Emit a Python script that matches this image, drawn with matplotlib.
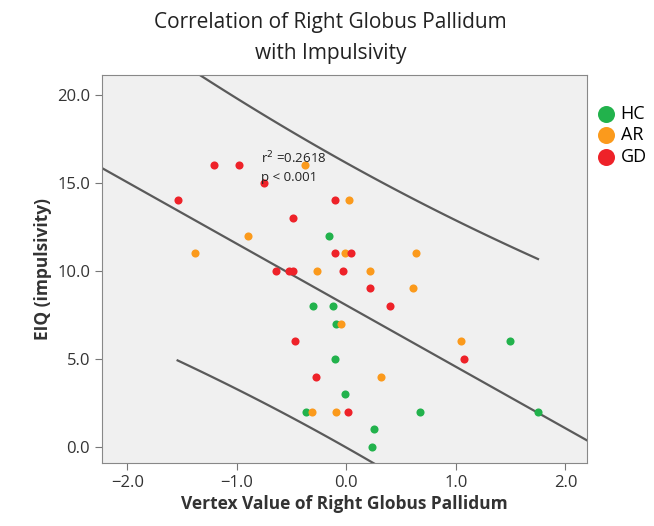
import numpy as np
import matplotlib
matplotlib.use("Agg")
import matplotlib.pyplot as plt

# values (vertex value, EIQ score)
hc_x = [-0.16, -0.30, -0.125, -0.09, 1.49, -0.10, -0.015, -0.37, 0.67, 1.75, 0.256, 0.235]
hc_y = [12, 8, 8, 7, 6, 5, 3, 2, 2, 2, 1, 0]

ar_x = [-0.38, 0.025, -0.90, -1.38, -0.01, 0.64, -0.27, 0.22, 0.61, -0.05, 1.05, 0.32, -0.31, -0.094]
ar_y = [16, 14, 12, 11, 11, 11, 10, 10, 9, 7, 6, 4, 2, 2]

gd_x = [-1.21, -0.98, -0.75, -1.54, -0.49, -0.64, -0.52, -0.49, -0.107, -0.10, 0.046,
        -0.03, 0.22, 0.40, -0.47, 1.07, -0.28, 0.012]
gd_y = [16, 16, 15, 14, 13, 10, 10, 10, 14, 11, 11, 10, 9, 8, 6, 5, 4, 2]

groups = ["HC", "AR", "GD"]
colors = ["#22b24c", "#fb9a1c", "#ee2229"]

plt.rcParams['font.family'] = ['Open Sans', 'DejaVu Sans']

fig = plt.figure(figsize=(6.54, 5.26), dpi=100)
ax = fig.add_axes([0.156, 0.120, 0.742, 0.737])
ax.set_facecolor("#f0f0f0")

for xs, ys, c, g in zip([hc_x, ar_x, gd_x], [hc_y, ar_y, gd_y], colors, groups):
    ax.scatter(xs, ys, s=34, color=c, label=g, zorder=3, linewidths=0)

# linear fit with 95% prediction interval
x_all = np.array(hc_x + ar_x + gd_x)
y_all = np.array(hc_y + ar_y + gd_y)
n = len(x_all)
b, a = np.polyfit(x_all, y_all, 1)
resid = y_all - (a + b * x_all)
s = np.sqrt(np.sum(resid ** 2) / (n - 2))
t = 2.018
xm = x_all.mean()
sxx = np.sum((x_all - xm) ** 2)

xl = np.linspace(-2.3, 2.3, 100)
ax.plot(xl, a + b * xl, color="#5a5a5a", lw=1.6, zorder=2)
xp = np.linspace(x_all.min(), x_all.max(), 100)
half = t * s * np.sqrt(1 + 1 / n + (xp - xm) ** 2 / sxx)
ax.plot(xp, a + b * xp + half, color="#5a5a5a", lw=1.6, zorder=2)
ax.plot(xp, a + b * xp - half, color="#5a5a5a", lw=1.6, zorder=2)

ax.text(-0.78, 16.4, "r$^2$ =0.2618", fontsize=9.5, color="#222222", va="center", zorder=4)
ax.text(-0.78, 15.3, "p < 0.001", fontsize=9.5, color="#222222", va="center", zorder=4)

ax.set_xlim(-2.23, 2.2)
ax.set_ylim(-0.9, 21.1)
ax.set_xticks([-2, -1, 0, 1, 2])
ax.set_xticklabels(["−2.0", "−1.0", "0.0", "1.0", "2.0"])
ax.set_yticks([0, 5, 10, 15, 20])
ax.set_yticklabels(["0.0", "5.0", "10.0", "15.0", "20.0"])
ax.tick_params(labelsize=12, colors="#333333", length=5, color="#777777")
for sp in ax.spines.values():
    sp.set_color("#888888")

ax.set_xlabel("Vertex Value of Right Globus Pallidum", fontsize=12.5, fontweight="bold",
              color="#333333", labelpad=3)
ax.set_ylabel("EIQ (impulsivity)", fontsize=12.5, fontweight="bold", color="#333333")
fig.text(0.505, 0.928, "Correlation of Right Globus Pallidum\nwith Impulsivity",
         ha="center", va="center", fontsize=15, color="#222222", linespacing=1.65)

fig.legend(loc="upper left", bbox_to_anchor=(0.902, 0.815), frameon=False, fontsize=13,
           handlelength=1.0, handletextpad=0.3, labelspacing=0.2, markerscale=2.1,
           borderaxespad=0.0)

fig.savefig("out.png", dpi=100)
